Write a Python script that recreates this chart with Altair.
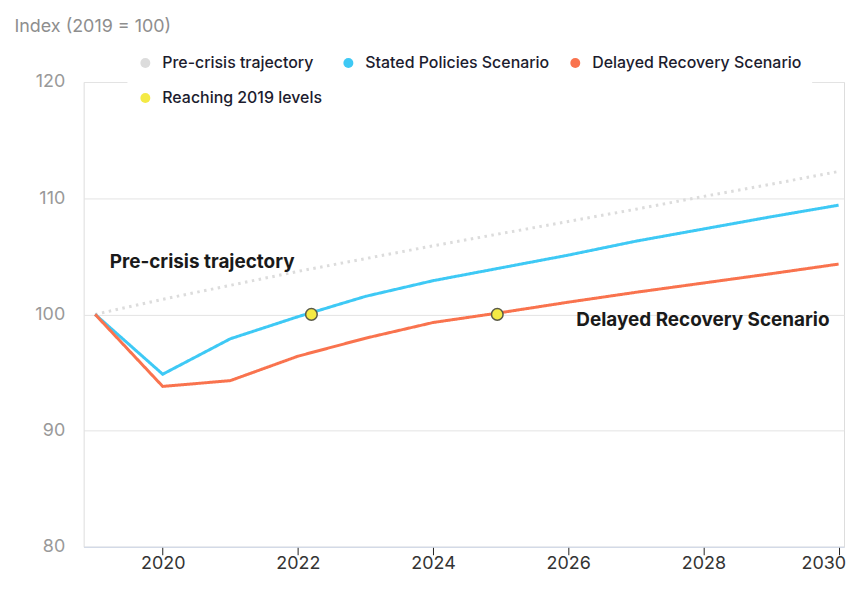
import altair as alt
import pandas as pd

years = list(range(2019, 2031))
pre_crisis = [100, 101.3, 102.5, 103.7, 104.8, 105.9, 106.95, 108.0, 109.05, 110.15, 111.2, 112.3]
stated = [100, 94.85, 97.9, 99.8, 101.55, 102.9, 104.0, 105.1, 106.3, 107.35, 108.4, 109.4]
delayed = [100, 93.8, 94.3, 96.4, 97.95, 99.3, 100.15, 101.05, 101.9, 102.7, 103.5, 104.33]

reach_years = [2022.2, 2024.95]
reach_values = [100, 100]

series_names = ["Pre-crisis trajectory", "Stated Policies Scenario",
                "Delayed Recovery Scenario", "Reaching 2019 levels"]
series_colors = ["#dcdcdc", "#3ec9f5", "#f9734e", "#f4ea45"]

label_texts = ["Pre-crisis trajectory", "Delayed Recovery Scenario"]
label_years = [2019.215, 2026.12]
label_values = [104.5, 99.5]

x_ticks = [2020, 2022, 2024, 2026, 2028, 2030]
y_ticks = [80, 90, 100, 110, 120]

rows = []
for name, vals in zip(series_names[:3], [pre_crisis, stated, delayed]):
    for y, v in zip(years, vals):
        rows.append({"year": y, "value": v, "series": name})
lines_df = pd.DataFrame(rows)
pts_df = pd.DataFrame({"year": reach_years, "value": reach_values,
                       "series": [series_names[3]] * len(reach_years)})
txt_df = pd.DataFrame({"year": label_years, "value": label_values, "text": label_texts})

FONT = "Inter"

x_scale = alt.Scale(domain=[2018.83, 2030.08], nice=False, zero=False)
y_scale = alt.Scale(domain=[80, 120], nice=False, zero=False)

x_axis = alt.Axis(
    values=x_ticks, format="d", title=None, grid=False,
    domainColor="#cdd6e8", domainWidth=1,
    tickColor="#222222", tickSize=8, tickWidth=1,
    labelColor="#333333", labelFontSize=18, labelFont=FONT, labelPadding=0,
    labelAlign={"condition": {"test": "datum.value == 2030", "value": "right"}, "value": "center"},
    labelOffset={"condition": {"test": "datum.value == 2030", "value": 7}, "value": 0},
)
y_axis = alt.Axis(
    values=y_ticks, grid=True, gridColor="#e3e3e3", domain=False, ticks=False,
    labelColor="#999999", labelFontSize=18, labelFont=FONT, labelPadding=19,
    title="Index (2019 = 100)", titleAngle=0, titleAlign="left", titleX=-70, titleY=-56,
    titleBaseline="middle", titleColor="#8e8e8e", titleFontWeight="normal",
    titleFontSize=18, titleFont=FONT,
)

color_scale = alt.Scale(domain=series_names, range=series_colors)
legend = alt.Legend(
    title=None, orient="none", legendX=44, legendY=-37, direction="horizontal",
    columns=3, symbolType="circle", symbolSize=100, symbolStrokeWidth=0,
    symbolOpacity=1,
    labelFont=FONT, labelFontSize=16, labelFontWeight=500, labelColor="#1c1c2e",
    labelOffset=9, columnPadding=18, rowPadding=19, fillColor="white", padding=10,
    labelLimit=400,
)

# invisible filled layer first so that the shared legend uses filled dots
legend_layer = alt.Chart(pts_df).mark_circle(opacity=0).encode(
    x=alt.X("year:Q", scale=x_scale, axis=x_axis),
    y=alt.Y("value:Q", scale=y_scale, axis=y_axis),
    color=alt.Color("series:N", scale=color_scale, legend=legend),
)

lines = alt.Chart(lines_df).mark_line(strokeWidth=3, strokeCap="butt").encode(
    x="year:Q",
    y="value:Q",
    color=alt.Color("series:N", scale=color_scale, legend=legend),
    strokeDash=alt.StrokeDash("series:N", scale=alt.Scale(
        domain=series_names[:3], range=[[2.5, 4.5], [1, 0], [1, 0]]), legend=None),
    detail="series:N",
)

points = alt.Chart(pts_df).mark_circle(size=135, stroke="#5a5a48", strokeWidth=1.5, opacity=1).encode(
    x="year:Q", y="value:Q",
    color=alt.Color("series:N", scale=color_scale, legend=legend),
)

texts = alt.Chart(txt_df).mark_text(
    align="left", baseline="middle", font=FONT, fontSize=19, fontWeight="bold",
    color="#1a1a1a",
).encode(x="year:Q", y="value:Q", text="text:N")

chart = alt.layer(legend_layer, lines, points, texts).properties(
    width=764, height=467,
    padding={"left": 6, "top": 8, "right": 0, "bottom": 0},
).configure_view(stroke=None).configure(background="white")

chart.save("out.html", embed_options={"renderer": "svg", "actions": False})
